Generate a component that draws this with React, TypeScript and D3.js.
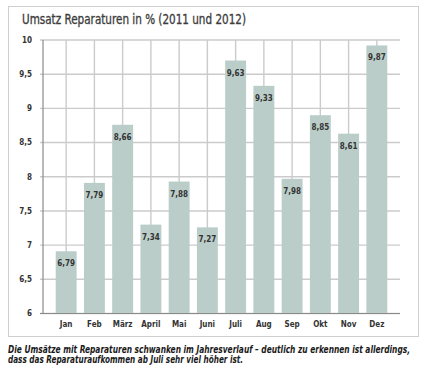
import React from "react";
import * as d3 from "d3";

// months and printed labels
const months = ["Jan", "Feb", "März", "April", "Mai", "Juni", "Juli", "Aug", "Sep", "Okt", "Nov", "Dez"];
const labels = [6.79, 7.79, 8.66, 7.34, 7.88, 7.27, 9.63, 9.33, 7.98, 8.85, 8.61, 9.87];
// bar heights as drawn in the picture (slightly off the printed labels)
const barValues = [6.91, 7.91, 8.76, 7.3, 7.93, 7.26, 9.7, 9.33, 7.97, 8.9, 8.63, 9.92];
const yTicks = [6, 6.5, 7, 7.5, 8, 8.5, 9, 9.5, 10];

const title = "Umsatz Reparaturen in % (2011 und 2012)";
const caption1 = "Die Umsätze mit Reparaturen schwanken im Jahresverlauf – deutlich zu erkennen ist allerdings,";
const caption2 = "dass das Reparaturaufkommen ab Juli sehr viel höher ist.";

const font = "'Liberation Sans Narrow', 'DejaVu Sans Condensed', Roboto, sans-serif";

export default function App() {
  const width = 431;
  const height = 387;
  const margin = { top: 40, right: 31, bottom: 73, left: 43 };

  const x = d3
    .scaleBand()
    .domain(months)
    .range([margin.left, width - margin.right])
    .paddingInner(0.26)
    .paddingOuter(0.45);

  const y = d3
    .scaleLinear()
    .domain([6, 10])
    .range([height - margin.bottom - 0.5, margin.top]);

  const fmt = (v: number) => String(v).replace(".", ",");
  const data = months.map((m, i) => ({ m, v: barValues[i], label: labels[i] }));

  return (
    <svg
      width={width}
      height={height}
      style={{ position: "absolute", left: 0, top: 0, background: "#fff" }}
      fontFamily={font}
    >
      {/* frame */}
      <rect x={8.5} y={6.5} width={410} height={330} fill="none" stroke="#cfcfcf" strokeWidth={1} />

      <text x={22} y={24} fontSize={13.5} fill="#3c3c3c" stroke="#3c3c3c" strokeWidth={0.3} textLength={224} lengthAdjust="spacingAndGlyphs">
        {title}
      </text>

      {/* horizontal grid */}
      {yTicks.map((t) => (
        <g key={t}>
          <line x1={margin.left - 3} x2={width - margin.right} y1={y(t)} y2={y(t)} stroke="#cbcbcb" strokeWidth={1.4} />
          <text x={32} y={y(t)} dy="0.35em" textAnchor="end" fontSize={8} fontWeight="bold" fill="#333">
            {fmt(t)}
          </text>
        </g>
      ))}

      {/* vertical grid through band centers */}
      {months.map((m) => (
        <line
          key={m}
          x1={x(m)! + x.bandwidth() / 2}
          x2={x(m)! + x.bandwidth() / 2}
          y1={y(10)}
          y2={y(6)}
          stroke="#cbcbcb"
          strokeWidth={1.4}
        />
      ))}

      {/* bars */}
      {data.map((d) => (
        <rect key={d.m} x={x(d.m)} y={y(d.v)} width={x.bandwidth()} height={y(6) - y(d.v)} fill="#bacdc8" />
      ))}

      {data.map((d) => (
        <text
          key={d.m}
          x={x(d.m)! + x.bandwidth() / 2}
          y={y(d.v) + 15}
          textAnchor="middle"
          fontSize={8}
          fontWeight="bold"
          fill="#333"
        >
          {fmt(d.label)}
        </text>
      ))}

      {/* axes */}
      <line x1={margin.left} x2={margin.left} y1={y(10)} y2={y(6)} stroke="#8a8a8a" strokeWidth={1.2} />
      <line x1={margin.left - 3} x2={width - margin.right} y1={y(6)} y2={y(6)} stroke="#8a8a8a" strokeWidth={1.2} />

      {months.map((m) => (
        <text
          key={m}
          x={x(m)! + x.bandwidth() / 2}
          y={327}
          textAnchor="middle"
          fontSize={8}
          fontWeight="bold"
          fill="#333"
        >
          {m}
        </text>
      ))}

      <text x={8} y={352.5} fontSize={10} fontStyle="italic" fontWeight="bold" fill="#1a1a1a" textLength={402} lengthAdjust="spacingAndGlyphs">
        {caption1}
      </text>
      <text x={8} y={363} fontSize={10} fontStyle="italic" fontWeight="bold" fill="#1a1a1a" textLength={235} lengthAdjust="spacingAndGlyphs">
        {caption2}
      </text>
    </svg>
  );
}
